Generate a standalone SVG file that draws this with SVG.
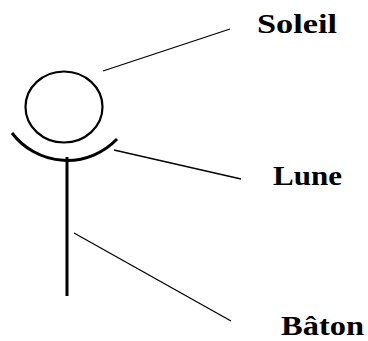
<svg xmlns="http://www.w3.org/2000/svg" width="368" height="341" viewBox="0 0 368 341">
<style>
.lbl{font-family:"Liberation Serif","Times New Roman",serif;font-weight:bold;font-size:28px;fill:#000}
.ln{stroke:#000;stroke-width:1.3;fill:none}
.sh{stroke:#000;fill:none}
</style>
<rect width="368" height="341" fill="#fff"/>
<g id="soleil">
<ellipse class="sh" cx="64" cy="107" rx="38.5" ry="35.5" stroke-width="2.2"/>
<text class="lbl" x="257" y="33" textLength="80" lengthAdjust="spacingAndGlyphs">Soleil</text>
</g>
<g id="lune">
<path class="sh" d="M12,133 A69,69 0 0 0 117,139" stroke-width="3"/>
<text class="lbl" x="273" y="185" textLength="69" lengthAdjust="spacingAndGlyphs">Lune</text>
</g>
<g id="baton">
<line class="sh" x1="67" y1="157" x2="67" y2="296" stroke-width="3"/>
<text class="lbl" x="281" y="335" style="font-size:26.5px" textLength="83" lengthAdjust="spacingAndGlyphs">Bâton</text>
</g>
<g id="connectors">
<line class="ln" x1="103" y1="71" x2="230" y2="29"/>
<line class="ln" x1="114" y1="150" x2="241" y2="179"/>
<line class="ln" x1="74" y1="233" x2="231" y2="321"/>
</g>
</svg>
